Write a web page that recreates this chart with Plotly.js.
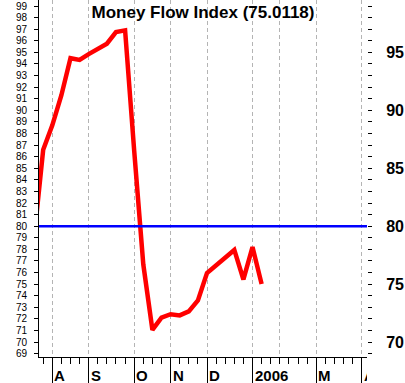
<!DOCTYPE html>
<html>
<head>
<meta charset="utf-8">
<script src="https://cdn.plot.ly/plotly-3.0.1.min.js"></script>
<style>
  html, body { margin: 0; padding: 0; background: #ffffff; }
  #chart { width: 405px; height: 383px; }
</style>
</head>
<body>
<div id="chart"></div>
<script>
// Week number (0 = first week of August 2005)
const weekNumber = [-2, -1, 0, 1, 2, 3, 4, 5, 6, 7, 8, 9, 10, 11, 12, 13, 14, 15, 16, 17, 18, 19, 20, 21, 22, 23];
// Money Flow Index weekly values
const mfi = [79.0, 86.6, 88.7, 91.3, 94.5, 94.35, 94.85, 95.3, 95.75, 96.75, 96.9, 86.5, 76.7, 71.05,
             72.1, 72.4, 72.3, 72.65, 73.6, 75.95, 76.65, 77.3, 77.95, 75.4, 78.2, 75.0118];
// Month boundaries (first week of each month), Aug 2005 .. Apr 2006
const monthWeeks  = [0, 4, 9, 13, 17, 22, 25, 29, 34];
const monthLabels = ['A', 'S', 'O', 'N', 'D', '2006', '', 'M', 'A'];
const overboughtLevel = 80;

const labelFont = {family: 'Liberation Sans, Arial, sans-serif', size: 15, color: '#000', weight: 'bold'};

const annotations = [];
monthWeeks.forEach((w, i) => {
  if (!monthLabels[i]) return;
  annotations.push({
    x: w, xref: 'x', y: 0, yref: 'paper',
    xanchor: 'left', yanchor: 'top', xshift: 0, yshift: -8,
    text: monthLabels[i], showarrow: false,
    font: labelFont, borderpad: 1
  });
});
// white mask: the chart's frame cuts the labels at the right edge of the plot
annotations.push({
  x: 1, xref: 'paper', y: 0, yref: 'paper', xanchor: 'left', yanchor: 'top',
  xshift: 0, yshift: -7, text: ' ', showarrow: false, width: 40, height: 24,
  bgcolor: '#ffffff', borderpad: 0, borderwidth: 0
});

const longTickWeeks = monthWeeks.filter((w, i) => monthLabels[i] !== '');

const xr = [-1.46, 34.58];
const yr = [68.71, 99.52];

const data = [{
  x: weekNumber, y: mfi, type: 'scatter', mode: 'lines',
  line: {color: '#ff0000', width: 4.5}, hoverinfo: 'skip'
}, {
  x: weekNumber, y: mfi, xaxis: 'x2', yaxis: 'y2', type: 'scatter', mode: 'lines',
  line: {color: 'rgba(0,0,0,0)', width: 0}, opacity: 0, hoverinfo: 'skip'
}];

const layout = {
  width: 405, height: 383,
  margin: {l: 39, r: 38, t: 0, b: 26, pad: 0},
  paper_bgcolor: '#ffffff', plot_bgcolor: '#ffffff',
  showlegend: false,
  font: {family: 'Liberation Sans, Arial, sans-serif', color: '#000'},
  title: {
    text: 'Money Flow Index (' + mfi[mfi.length - 1].toFixed(4) + ')',
    font: {family: 'Liberation Sans, Arial, sans-serif', size: 17, color: '#000', weight: 'bold'},
    x: 0.5, xanchor: 'center', xref: 'paper',
    y: 0.985, yref: 'container', yanchor: 'top'
  },
  xaxis: {
    range: xr, type: 'linear', automargin: false,
    tickmode: 'array', tickvals: longTickWeeks, showticklabels: false,
    ticks: 'outside', ticklen: 26, tickwidth: 1, tickcolor: '#000',
    showgrid: true, gridcolor: '#b4b4b4', gridwidth: 1, griddash: '4px,3px',
    showline: true, linecolor: '#000', linewidth: 1, zeroline: false
  },
  xaxis2: {
    range: xr, type: 'linear', overlaying: 'x', anchor: 'y', side: 'bottom', automargin: false,
    tickmode: 'array', tickvals: monthWeeks, showticklabels: false,
    ticks: 'outside', ticklen: 6, tickwidth: 1, tickcolor: '#000',
    showgrid: true, gridcolor: '#b4b4b4', gridwidth: 1, griddash: '4px,3px',
    showline: false, zeroline: false,
    minor: {dtick: 1, tick0: 0, ticks: 'outside', ticklen: 6, tickwidth: 1, tickcolor: '#000', showgrid: false}
  },
  yaxis: {
    range: yr, automargin: false,
    dtick: 1, tick0: 0, ticks: 'outside', ticklen: 4, tickwidth: 1, tickcolor: '#000',
    tickfont: {size: 10, color: '#000'}, ticklabelstandoff: 5,
    showgrid: false, showline: true, linecolor: '#000', linewidth: 1, zeroline: false
  },
  yaxis2: {
    range: yr, overlaying: 'y', side: 'right', anchor: 'x2', automargin: false,
    dtick: 5, tick0: 0, ticks: 'outside', ticklen: 4, tickwidth: 1, tickcolor: '#000',
    tickfont: {size: 16, color: '#000', weight: 'bold'}, ticklabelstandoff: 11,
    minor: {dtick: 1, tick0: 0, ticks: 'outside', ticklen: 4, tickwidth: 1, tickcolor: '#000', showgrid: false},
    showgrid: false, showline: false, zeroline: false
  },
  shapes: [{
    type: 'line', xref: 'paper', x0: 0, x1: 1, yref: 'y', y0: overboughtLevel, y1: overboughtLevel,
    line: {color: '#0000ff', width: 2.5}, layer: 'above'
  }],
  annotations: annotations
};

Plotly.newPlot('chart', data, layout, {staticPlot: true, displayModeBar: false});
</script>
</body>
</html>
